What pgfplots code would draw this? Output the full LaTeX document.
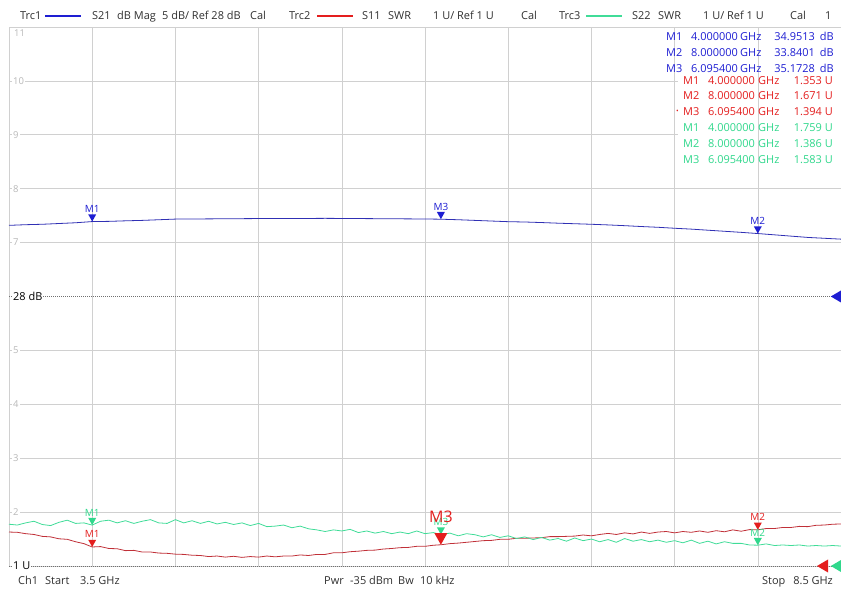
\documentclass[border=0pt]{standalone}
\usepackage{pgfplots}
\pgfplotsset{compat=1.18}
\usepackage{fontspec}
\setmainfont{Open Sans}

\definecolor{trcblue}{HTML}{3030B4}
\definecolor{trcred}{HTML}{C03038}
\definecolor{trcgreen}{HTML}{40DC98}
\definecolor{mkblue}{HTML}{1E1ED2}
\definecolor{mkred}{HTML}{E41E1E}
\definecolor{mkgreen}{HTML}{30D88C}
\definecolor{gridgray}{HTML}{D0D0D0}
\definecolor{refgray}{HTML}{707070}
\definecolor{ticktext}{HTML}{B8B8B8}
\definecolor{hdrtext}{HTML}{303030}

% marker triangle pointing down, tip on the trace
\pgfdeclareplotmark{mdown}{%
  \pgfpathmoveto{\pgfpointorigin}%
  \pgfpathlineto{\pgfpoint{-\pgfplotmarksize}{1.8\pgfplotmarksize}}%
  \pgfpathlineto{\pgfpoint{\pgfplotmarksize}{1.8\pgfplotmarksize}}%
  \pgfpathclose\pgfusepathqfill}
% reference level triangle pointing left, base on the point
\pgfdeclareplotmark{mleft}{%
  \pgfpathmoveto{\pgfpoint{0pt}{\pgfplotmarksize}}%
  \pgfpathlineto{\pgfpoint{-1.7\pgfplotmarksize}{0pt}}%
  \pgfpathlineto{\pgfpoint{0pt}{-\pgfplotmarksize}}%
  \pgfpathclose\pgfusepathqfill}

\tikzset{
  hdr/.style={anchor=base west, inner sep=0pt, text=hdrtext, font=\fontsize{11}{13}\selectfont},
  hdre/.style={hdr, anchor=base east},
}
\pgfplotsset{
  mlabel/.style={only marks, mark=mdown, mark size=4bp, nodes near coords,
    point meta=explicit symbolic,
    nodes near coords style={anchor=south, yshift=8.8bp, inner sep=0pt,
      text=#1, font=\fontsize{10}{10}\selectfont}},
}

\begin{document}
\begin{tikzpicture}
\useasboundingbox (0,0) rectangle (841bp,590bp);

% SWR axis (Trc2, Trc3): 1 U/div, ref 1 U at bottom
\begin{axis}[
  at={(9bp,24bp)}, anchor=south west,
  width=832bp, height=539bp, scale only axis,
  xmin=3.5, xmax=8.5, ymin=1, ymax=11,
  clip=false,
  axis line style={draw=gridgray, line width=0.6bp},
  xtick={3.5,4,...,8.5}, xticklabels={},
  ytick={2,3,4,5,7,8,9,10}, yticklabels={2,3,4,5,7,8,9,10},
  major tick length=0pt,
  grid=major,
  major grid style={draw=gridgray, line width=0.6bp},
  yticklabel style={anchor=west, xshift=3bp, fill=white, inner sep=1bp,
    text=ticktext, font=\fontsize{9.5}{9.5}\selectfont},
  extra y ticks={1,6}, extra y tick labels={1 U,28 dB},
  extra y tick style={grid=major,
    major grid style={draw=refgray, dash pattern=on 0.8bp off 1.2bp, line width=0.7bp},
    yticklabel style={text=black, xshift=0bp, font=\fontsize{11}{11}\selectfont}},
]

% Trc2 S11 SWR
\addplot[trcred, line width=0.8bp] coordinates {
(3.50,1.63) (3.55,1.625) (3.60,1.60) (3.65,1.585) (3.70,1.55) (3.75,1.54)
(3.80,1.505) (3.85,1.495) (3.90,1.45) (3.95,1.415) (4.00,1.353) (4.05,1.36)
(4.10,1.325) (4.15,1.32) (4.20,1.285) (4.25,1.29) (4.30,1.26) (4.35,1.26)
(4.40,1.24) (4.45,1.235) (4.50,1.22) (4.55,1.215) (4.60,1.20) (4.65,1.195)
(4.70,1.175) (4.75,1.185) (4.80,1.165) (4.85,1.18) (4.90,1.16) (4.95,1.175)
(5.00,1.165) (5.05,1.185) (5.10,1.17) (5.15,1.185) (5.20,1.185) (5.25,1.205)
(5.30,1.195) (5.35,1.215) (5.40,1.215) (5.45,1.245) (5.50,1.245) (5.55,1.265)
(5.60,1.275) (5.65,1.29) (5.70,1.295) (5.75,1.315) (5.80,1.325) (5.85,1.34)
(5.90,1.345) (5.95,1.365) (6.00,1.365) (6.05,1.385) (6.0954,1.394) (6.15,1.415)
(6.20,1.425) (6.25,1.44) (6.30,1.455) (6.35,1.47) (6.40,1.475) (6.45,1.495)
(6.50,1.495) (6.55,1.515) (6.60,1.515) (6.65,1.52) (6.70,1.525) (6.75,1.545)
(6.80,1.545) (6.85,1.55) (6.90,1.555) (6.95,1.575) (7.00,1.56) (7.05,1.585)
(7.10,1.605) (7.15,1.585) (7.20,1.615) (7.25,1.595) (7.30,1.63) (7.35,1.605)
(7.40,1.63) (7.45,1.64) (7.50,1.615) (7.55,1.64) (7.60,1.625) (7.65,1.65)
(7.70,1.625) (7.75,1.655) (7.80,1.635) (7.85,1.67) (7.90,1.645) (7.95,1.675)
(8.00,1.671) (8.05,1.695) (8.10,1.695) (8.15,1.715) (8.20,1.715) (8.25,1.735)
(8.30,1.73) (8.35,1.755) (8.40,1.76) (8.45,1.775) (8.50,1.78)
};

% Trc3 S22 SWR
\addplot[trcgreen, line width=0.8bp] coordinates {
(3.50,1.775) (3.55,1.76) (3.60,1.80) (3.65,1.83) (3.70,1.77) (3.75,1.75)
(3.80,1.81) (3.85,1.85) (3.90,1.79) (3.95,1.80) (4.00,1.759) (4.05,1.83)
(4.10,1.85) (4.15,1.80) (4.20,1.84) (4.25,1.79) (4.30,1.83) (4.35,1.86)
(4.40,1.80) (4.45,1.79) (4.50,1.86) (4.55,1.80) (4.60,1.84) (4.65,1.79)
(4.70,1.83) (4.75,1.78) (4.80,1.81) (4.85,1.77) (4.90,1.80) (4.95,1.75)
(5.00,1.79) (5.05,1.73) (5.10,1.74) (5.15,1.76) (5.20,1.71) (5.25,1.74)
(5.30,1.69) (5.35,1.67) (5.40,1.64) (5.45,1.67) (5.50,1.65) (5.55,1.68)
(5.60,1.62) (5.65,1.65) (5.70,1.61) (5.75,1.64) (5.80,1.60) (5.85,1.63)
(5.90,1.60) (5.95,1.65) (6.00,1.60) (6.05,1.62) (6.0954,1.583) (6.15,1.61)
(6.20,1.56) (6.25,1.60) (6.30,1.58) (6.35,1.54) (6.40,1.58) (6.45,1.53)
(6.50,1.56) (6.55,1.51) (6.60,1.54) (6.65,1.49) (6.70,1.53) (6.75,1.48)
(6.80,1.51) (6.85,1.46) (6.90,1.52) (6.95,1.47) (7.00,1.50) (7.05,1.45)
(7.10,1.49) (7.15,1.44) (7.20,1.51) (7.25,1.46) (7.30,1.49) (7.35,1.45)
(7.40,1.48) (7.45,1.44) (7.50,1.47) (7.55,1.43) (7.60,1.48) (7.65,1.42)
(7.70,1.46) (7.75,1.41) (7.80,1.45) (7.85,1.42) (7.90,1.42) (7.95,1.39)
(8.00,1.386) (8.05,1.41) (8.10,1.38) (8.15,1.39) (8.20,1.38) (8.25,1.39)
(8.30,1.37) (8.35,1.38) (8.40,1.37) (8.45,1.38) (8.50,1.37)
};

% markers
\addplot[mlabel=mkred, mkred] coordinates {(4,1.353)[M1] (8,1.671)[M2]};
\addplot[mlabel=mkgreen, mkgreen] coordinates {(4,1.759)[M1] (8,1.386)[M2] (6.0954,1.583)[M3]};
\addplot[mlabel=mkred, mkred, mark size=6.5bp,
  nodes near coords style={yshift=13bp, font=\fontsize{16}{16}\selectfont}]
  coordinates {(6.0954,1.394)[M3]};

% reference level arrows
\addplot[only marks, mark=mleft, mark size=6bp, mkgreen] coordinates {(8.5,1)};
\addplot[only marks, mark=mleft, mark size=6.5bp, mkred] coordinates {(8.422,1)};
\end{axis}

% dB axis (Trc1): 5 dB/div, ref 28 dB on the sixth line
\begin{axis}[
  at={(9bp,24bp)}, anchor=south west,
  width=832bp, height=539bp, scale only axis,
  xmin=3.5, xmax=8.5, ymin=3, ymax=53,
  hide axis, clip=false,
]
% Trc1 S21 dB Mag
\addplot[trcblue, line width=0.8bp] coordinates {
(3.5,34.60) (3.6,34.66) (3.7,34.70) (3.8,34.77) (3.9,34.84) (4.0,34.95)
(4.1,34.97) (4.2,35.02) (4.3,35.06) (4.4,35.12) (4.5,35.18) (4.6,35.19)
(4.7,35.20) (4.8,35.21) (4.9,35.22) (5.0,35.23) (5.1,35.24) (5.2,35.23)
(5.3,35.24) (5.4,35.25) (5.5,35.24) (5.6,35.23) (5.7,35.22) (5.8,35.21)
(5.9,35.20) (6.0,35.19) (6.0954,35.17) (6.2,35.12) (6.3,35.06) (6.4,35.00)
(6.5,34.94) (6.6,34.91) (6.7,34.86) (6.8,34.80) (6.9,34.75) (7.0,34.70)
(7.1,34.64) (7.2,34.57) (7.3,34.49) (7.4,34.42) (7.5,34.33) (7.6,34.25)
(7.7,34.15) (7.8,34.05) (7.9,33.95) (8.0,33.84) (8.1,33.72) (8.2,33.60)
(8.3,33.48) (8.4,33.40) (8.5,33.32)
};
\addplot[mlabel=mkblue, mkblue] coordinates {(4,34.9513)[M1] (8,33.8401)[M2] (6.0954,35.1728)[M3]};
\addplot[only marks, mark=mleft, mark size=6bp, mkblue] coordinates {(8.5,28)};
\end{axis}

% top scale label
\node[anchor=west, inner sep=0pt, text=ticktext, font=\fontsize{9.5}{9.5}\selectfont] at (14bp,557bp) {11};

% header
\node[hdr] at (20bp,570bp) {Trc1};
\draw[mkblue, line width=1.5bp] (45bp,574bp) -- (81bp,574bp);
\node[hdr] at (92bp,570bp) {S21};
\node[hdr] at (117bp,570bp) {dB Mag};
\node[hdr] at (162bp,570bp) {5 dB/ Ref 28 dB};
\node[hdr] at (250bp,570bp) {Cal};
\node[hdr] at (289bp,570bp) {Trc2};
\draw[mkred, line width=1.5bp] (317bp,574bp) -- (353bp,574bp);
\node[hdr] at (362bp,570bp) {S11};
\node[hdr] at (388bp,570bp) {SWR};
\node[hdr] at (433bp,570bp) {1 U/ Ref 1 U};
\node[hdr] at (521bp,570bp) {Cal};
\node[hdr] at (559bp,570bp) {Trc3};
\draw[trcgreen, line width=1.5bp] (586bp,574bp) -- (622bp,574bp);
\node[hdr] at (632bp,570bp) {S22};
\node[hdr] at (658bp,570bp) {SWR};
\node[hdr] at (703bp,570bp) {1 U/ Ref 1 U};
\node[hdr] at (790bp,570bp) {Cal};
\node[hdr] at (825bp,570bp) {1};

% footer
\node[hdr] at (18bp,6bp) {Ch1};
\node[hdr] at (45bp,6bp) {Start};
\node[hdr] at (80bp,6bp) {3.5 GHz};
\node[hdr] at (324bp,6bp) {Pwr};
\node[hdr] at (350bp,6bp) {-35 dBm};
\node[hdr] at (398bp,6bp) {Bw};
\node[hdr] at (420bp,6bp) {10 kHz};
\node[hdr] at (762bp,6bp) {Stop};
\node[hdre] at (833bp,6bp) {8.5 GHz};

% marker table
\fill[white] (678bp,423bp) rectangle (840.5bp,516bp);
\draw[gridgray, line width=0.6bp] (757.8bp,423bp) -- (757.8bp,516bp);
\foreach \y/\m/\f/\v in {549/M1/4.000000/34.9513, 533/M2/8.000000/33.8401, 517/M3/6.095400/35.1728}{
  \node[hdr, text=mkblue] at (666bp,\y bp) {\m};
  \node[hdr, text=mkblue] at (691bp,\y bp) {\f};
  \node[hdr, text=mkblue] at (740bp,\y bp) {GHz};
  \node[hdre, text=mkblue] at (815bp,\y bp) {\v};
  \node[hdre, text=mkblue] at (834bp,\y bp) {dB};
}
\foreach \y/\m/\f/\v/\c in {505/M1/4.000000/1.353/mkred, 490/M2/8.000000/1.671/mkred, 474/M3/6.095400/1.394/mkred,
                           458/M1/4.000000/1.759/mkgreen, 442/M2/8.000000/1.386/mkgreen, 426/M3/6.095400/1.583/mkgreen}{
  \node[hdr, text=\c] at (683bp,\y bp) {\m};
  \node[hdr, text=\c] at (708bp,\y bp) {\f};
  \node[hdr, text=\c] at (758bp,\y bp) {GHz};
  \node[hdre, text=\c] at (822bp,\y bp) {\v};
  \node[hdre, text=\c] at (833bp,\y bp) {U};
}
\node[hdr, text=mkred, font=\fontsize{7}{7}\selectfont] at (676bp,476bp) {•};
\end{tikzpicture}
\end{document}
